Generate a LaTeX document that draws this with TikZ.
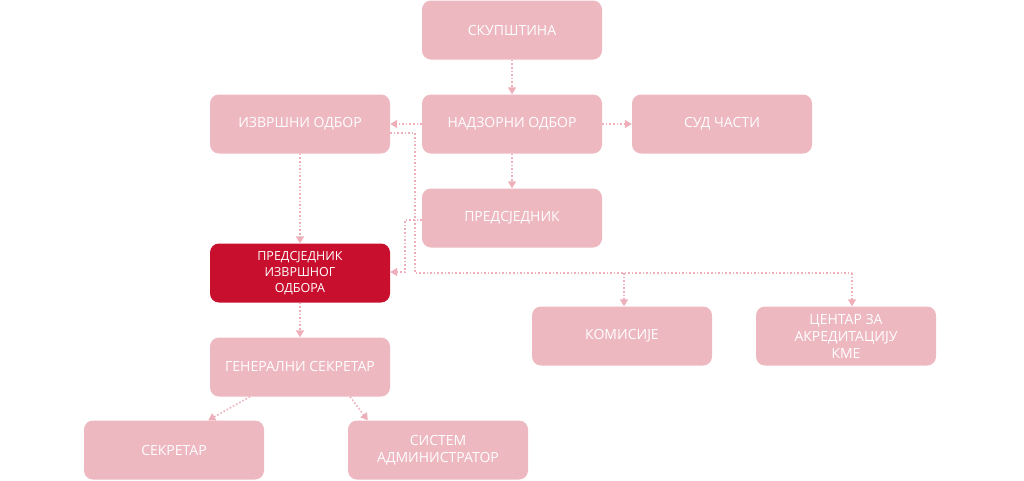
\documentclass[tikz,border=0pt]{standalone}
\usepackage{fontspec}
\setmainfont{Open Sans}
\usetikzlibrary{arrows.meta}
\definecolor{boxpink}{HTML}{EDB8C0}
\definecolor{boxred}{HTML}{C8102E}
\definecolor{linepink}{HTML}{EDB0BA}

\begin{document}
\begin{tikzpicture}[
    x=1pt, y=-1pt,
    orgbox/.style={fill=boxpink, rounded corners=9pt, minimum width=180pt, minimum height=59pt,
        align=center, text=white, font=\fontsize{14}{17}\selectfont, inner sep=2pt},
    headbox/.style={orgbox, fill=boxred, font=\fontsize{12.5}{16}\selectfont},
    link/.style={draw=linepink, line width=1.6pt, dotted, -{Triangle[width=8pt,length=7pt]}},
    plain/.style={draw=linepink, line width=1.6pt, dotted}
]
\useasboundingbox (0,0) rectangle (1024,480);

% Nodes
\node[orgbox] (skupstina) at (512,30) {СКУПШТИНА};
\node[orgbox] (izvrsni) at (300,124) {ИЗВРШНИ ОДБОР};
\node[orgbox] (nadzorni) at (512,124) {НАДЗОРНИ ОДБОР};
\node[orgbox] (sud) at (722,124) {СУД ЧАСТИ};
\node[orgbox] (predsjednik) at (512,218) {ПРЕДСЈЕДНИК};
\node[headbox] (predizv) at (300,273) {ПРЕДСЈЕДНИК\\ИЗВРШНОГ\\ОДБОРА};
\node[orgbox] (komisije) at (622,336) {КОМИСИЈЕ};
\node[orgbox] (centar) at (846,336) {ЦЕНТАР ЗА\\АКРЕДИТАЦИЈУ\\КМЕ};
\node[orgbox] (generalni) at (300,367) {ГЕНЕРАЛНИ СЕКРЕТАР};
\node[orgbox] (sekretar) at (174,450) {СЕКРЕТАР};
\node[orgbox] (sistem) at (438,450) {СИСТЕМ\\АДМИНИСТРАТОР};

% Junctions
\coordinate (j1) at (415,133);
\coordinate (j2) at (415,273);
\coordinate (j3) at (624,273);
\coordinate (j4) at (852,273);
\coordinate (j5) at (405,220);
\coordinate (j6) at (405,272);

% Arrows
\draw[link] (skupstina) -- (nadzorni);
\draw[link] (nadzorni) -- (izvrsni);
\draw[link] (nadzorni) -- (sud);
\draw[link] (nadzorni) -- (predsjednik);
\draw[link] (izvrsni) -- (predizv);
\draw[link] (predizv) -- (generalni);
\draw[link] (predsjednik.west |- j5) -- (j5) -- (j6) -- (j6 -| predizv.east);
\draw[plain] (j1 -| izvrsni.east) -- (j1) -- (j2) -- (j4);
\draw[link] (j3) -- (j3 |- komisije.north);
\draw[link] (j4) -- (j4 |- centar.north);
\draw[link] ([xshift=-50pt]generalni.south) -- ([xshift=-56pt]sekretar.north east);
\draw[link] ([xshift=50pt]generalni.south) -- ([xshift=20pt]sistem.north west);

\end{tikzpicture}
\end{document}
